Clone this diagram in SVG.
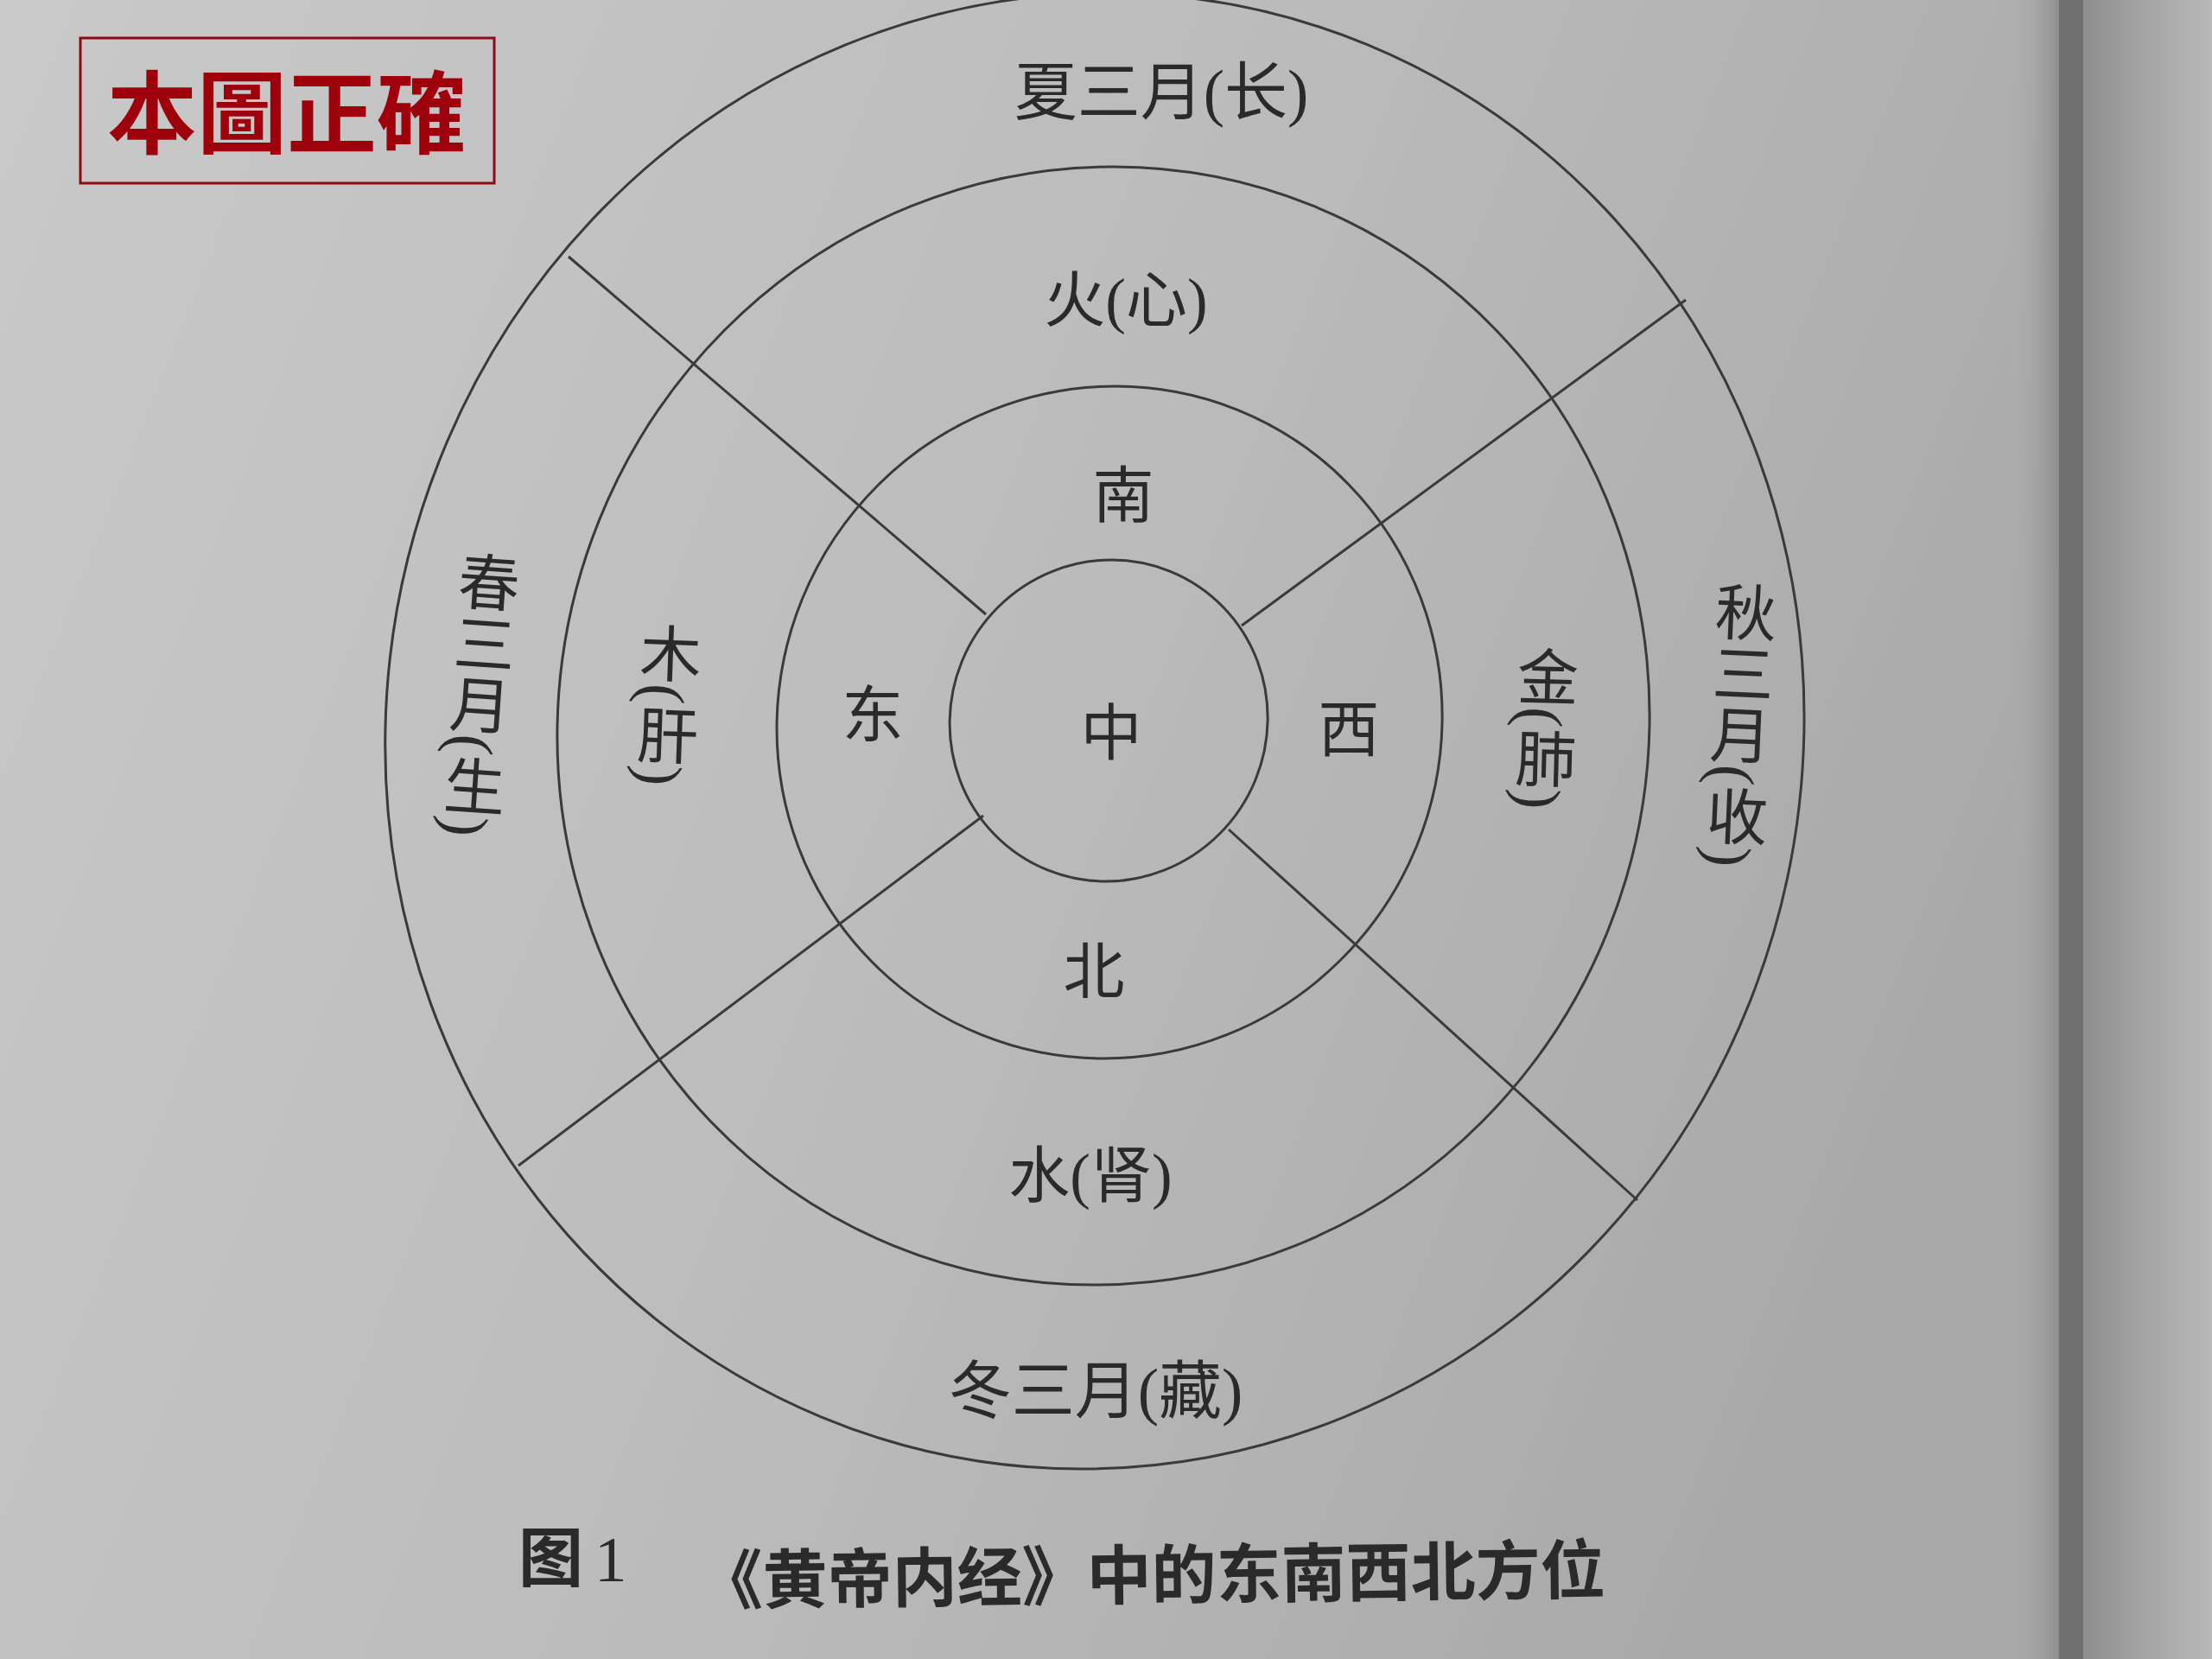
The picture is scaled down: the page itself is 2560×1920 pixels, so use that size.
<svg xmlns="http://www.w3.org/2000/svg" width="2560" height="1920" viewBox="0 0 2560 1920">
  <defs>
    <linearGradient id="page" x1="0" y1="0" x2="1" y2="0.3">
      <stop offset="0" stop-color="#c9c9c9"/>
      <stop offset="0.55" stop-color="#bbbbbb"/>
      <stop offset="1" stop-color="#a8a8a8"/>
    </linearGradient>
    <linearGradient id="edge" x1="0" y1="0" x2="1" y2="0">
      <stop offset="0" stop-color="#8e8e8e"/>
      <stop offset="0.5" stop-color="#a6a6a6"/>
      <stop offset="1" stop-color="#b8b8b8"/>
    </linearGradient>
    <linearGradient id="shade" x1="0" y1="0" x2="1" y2="0">
      <stop offset="0" stop-color="#a8a8a8" stop-opacity="0"/>
      <stop offset="1" stop-color="#8e8e8e" stop-opacity="1"/>
    </linearGradient>
    <style>
      .ring { fill: none; stroke: #3a3a3a; stroke-width: 3; }
      .div { stroke: #3a3a3a; stroke-width: 3; fill: none; }
      .lbl { font-family: 'Liberation Serif', 'Noto Sans CJK SC', serif; font-size: 71px; fill: #2a2a2a; text-anchor: middle; }
      .wide { font-size: 73px; }
      .vert { writing-mode: vertical-rl; }
      .cap { font-family: 'Noto Sans CJK SC', sans-serif; font-weight: bold; font-size: 75px; fill: #2a2a2a; }
      .title { font-family: 'Noto Sans CJK TC', sans-serif; font-weight: bold; font-size: 104px; fill: #9e000c; text-anchor: middle; }
    </style>
  </defs>

  <!-- page background -->
  <rect x="0" y="0" width="2560" height="1920" fill="url(#page)"/>
  <rect x="2330" y="0" width="53" height="1920" fill="url(#shade)"/>
  <rect x="2383" y="0" width="28" height="1920" fill="#707070"/>
  <rect x="2411" y="0" width="149" height="1920" fill="url(#edge)"/>

  <!-- title box -->
  <g id="title">
    <rect x="93" y="44" width="479" height="168" fill="none" stroke="#8e0a14" stroke-width="3"/>
    <text class="title" x="332" y="170">本圖正確</text>
  </g>

  <!-- rings -->
  <g id="rings" transform="translate(0,840) skewX(-1) translate(0,-840)">
    <ellipse id="ring-outer" class="ring" cx="1267" cy="846" rx="821" ry="854"/>
    <ellipse id="ring-organs" class="ring" cx="1277" cy="840" rx="632" ry="647"/>
    <ellipse id="ring-directions" class="ring" cx="1284" cy="836" rx="385" ry="389"/>
    <ellipse id="ring-center" class="ring" cx="1283" cy="834" rx="184" ry="186"/>
  </g>

  <!-- dividers -->
  <g id="connectors">
    <line class="div" x1="658" y1="297" x2="1141" y2="711"/>
    <line class="div" x1="1951" y1="347" x2="1437" y2="724"/>
    <line class="div" x1="600" y1="1349" x2="1138" y2="944"/>
    <line class="div" x1="1895" y1="1389" x2="1422" y2="960"/>
  </g>

  <!-- labels -->
  <g id="summer"><text class="lbl wide" x="1344" y="132">夏三月(长)</text></g>
  <g id="fire"><text class="lbl" x="1303" y="372">火(心)</text></g>
  <g id="south"><text class="lbl" x="1300" y="598">南</text></g>
  <g id="center"><text class="lbl" x="1286" y="873">中</text></g>
  <g id="east"><text class="lbl" x="1010" y="852">东</text></g>
  <g id="west"><text class="lbl" x="1561" y="869">西</text></g>
  <g id="north"><text class="lbl" x="1266" y="1149">北</text></g>
  <g id="water"><text class="lbl" x="1262" y="1385">水(肾)</text></g>
  <g id="winter"><text class="lbl wide" x="1268" y="1635">冬三月(藏)</text></g>
  <g id="spring"><text class="lbl vert" x="550" y="803" transform="rotate(4 550 803)">春三月(生)</text></g>
  <g id="wood"><text class="lbl vert" x="767" y="815" transform="rotate(2 767 815)">木(肝)</text></g>
  <g id="metal"><text class="lbl vert" x="1783" y="842" transform="rotate(1.5 1783 842)">金(肺)</text></g>
  <g id="autumn"><text class="lbl vert" x="2008" y="838" transform="rotate(2.5 2008 838)">秋三月(收)</text></g>

  <!-- caption -->
  <g id="caption">
    <text class="cap" x="600" y="1830">图<tspan x="688" style="font-family:'Liberation Serif',serif;font-weight:normal;">1</tspan></text>
    <text class="cap" x="1858" y="1850" text-anchor="end" transform="rotate(-0.7 1350 1850)">《黄帝内经》中的东南西北方位</text>
  </g>
</svg>
